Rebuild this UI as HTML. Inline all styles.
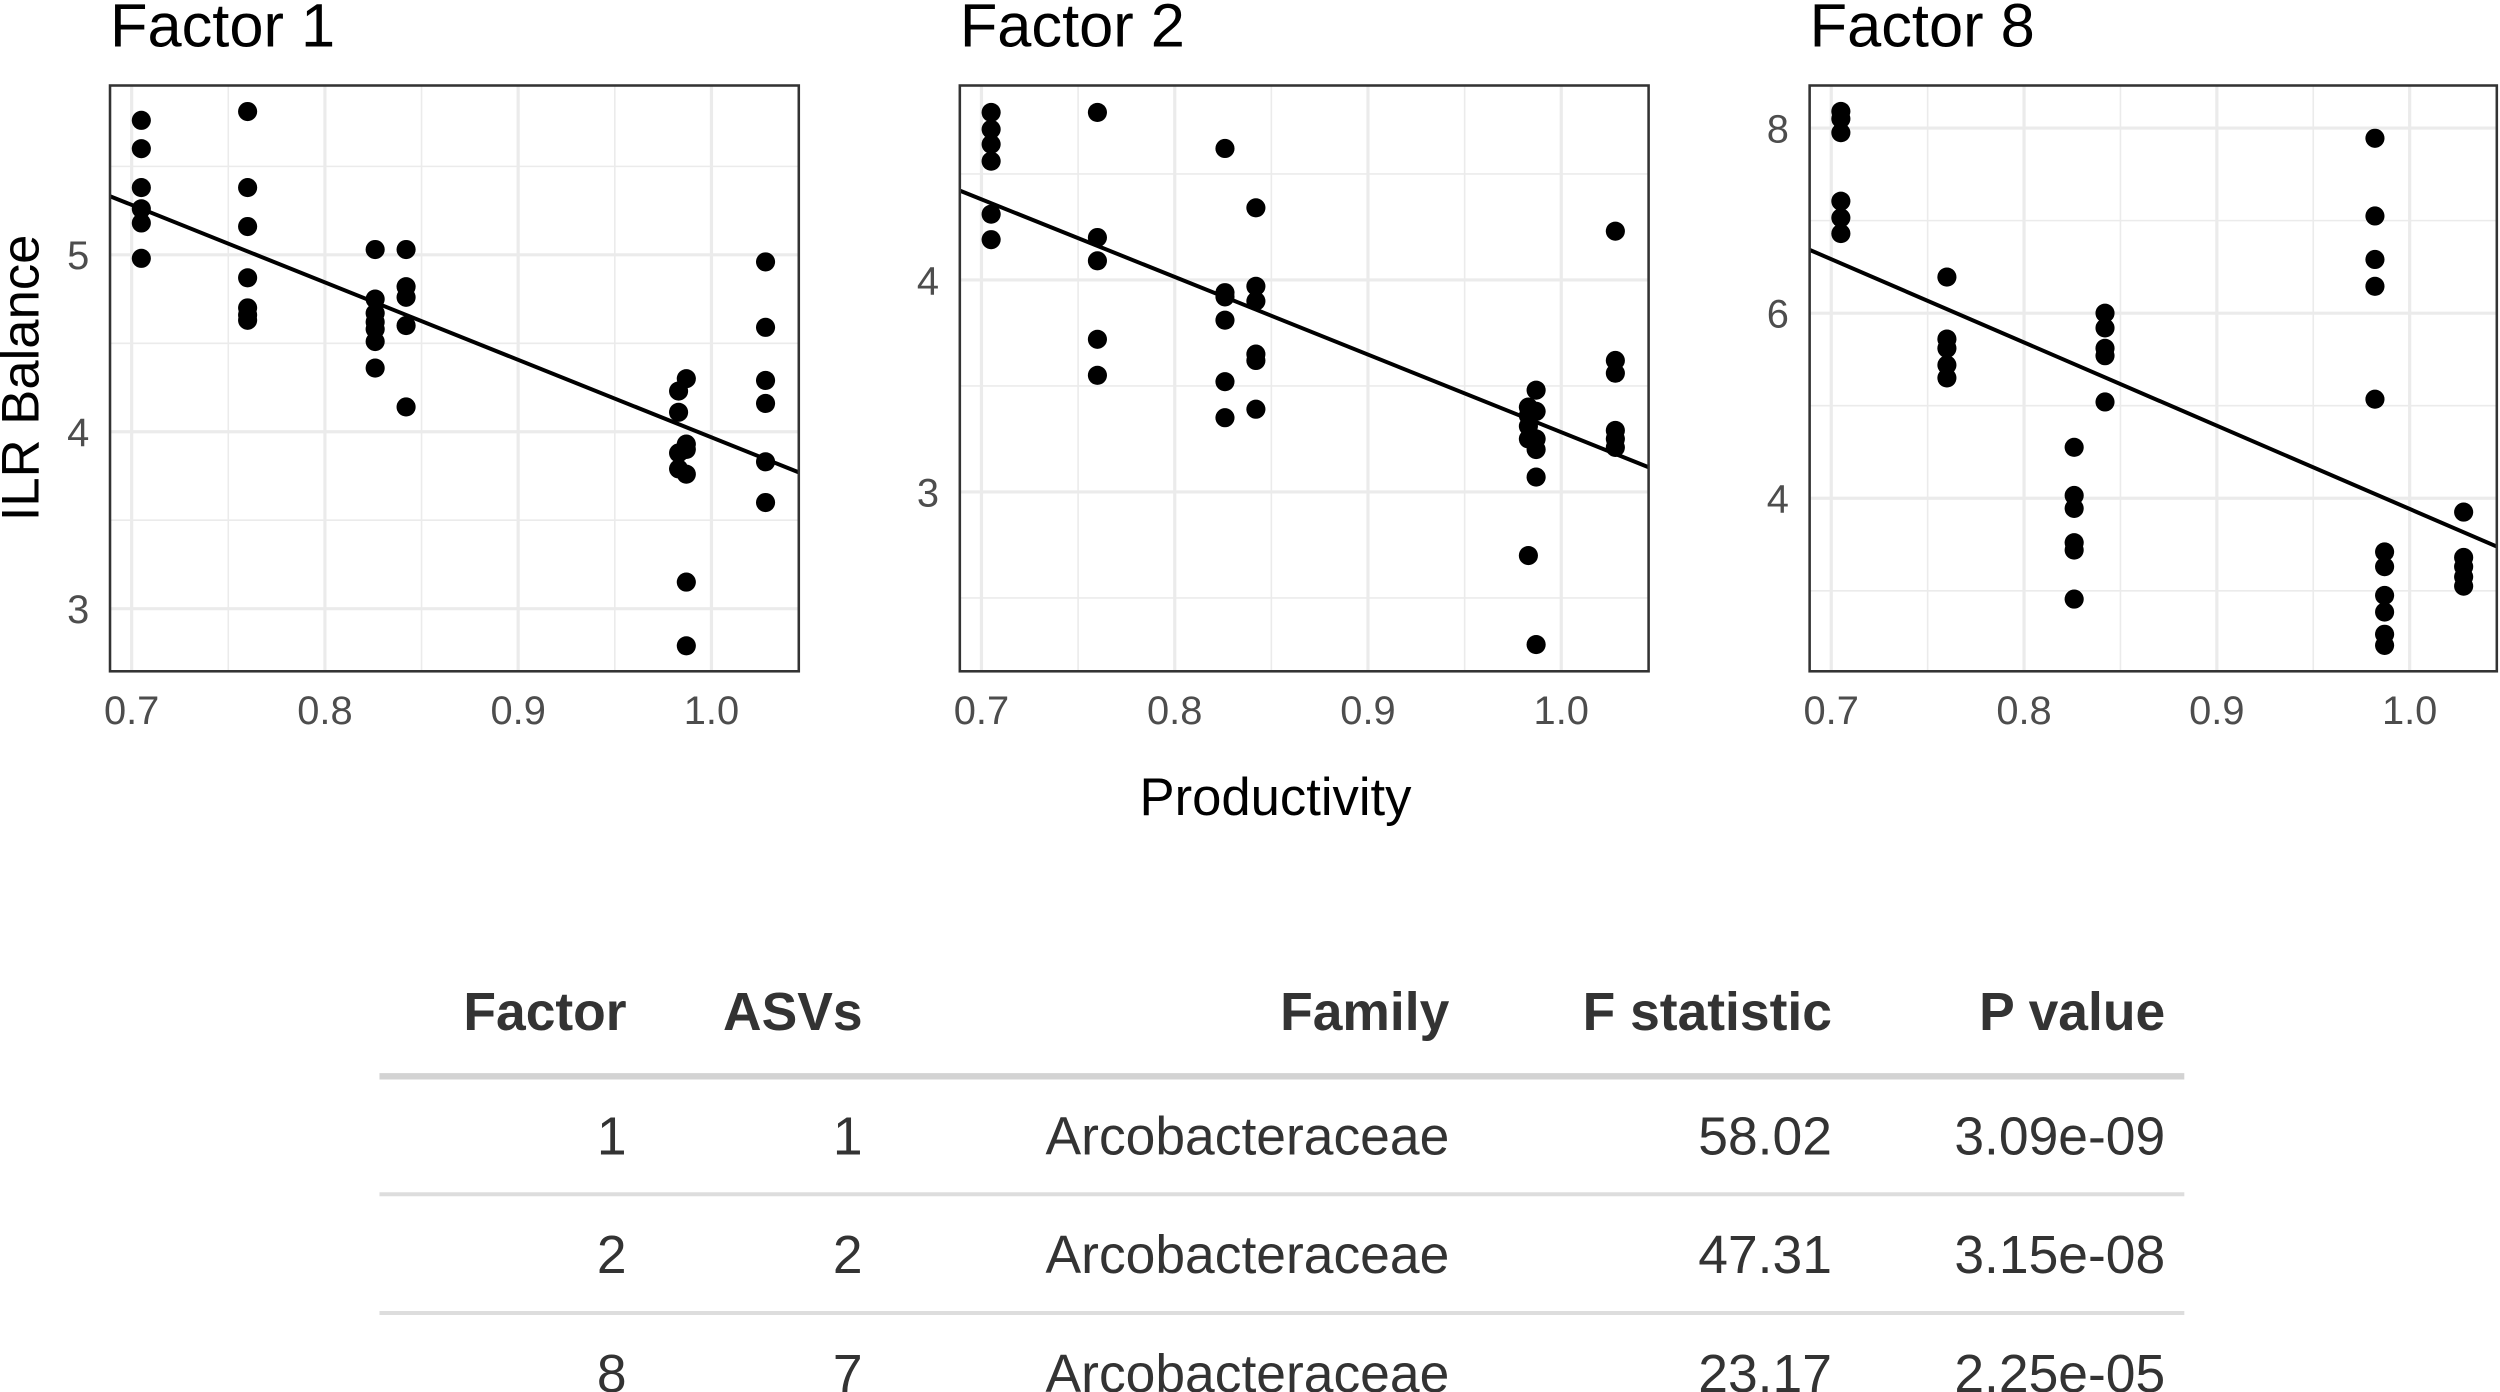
<!DOCTYPE html>
<html><head><meta charset="utf-8"><style>
html,body{margin:0;padding:0;background:#fff;}
svg{display:block;font-family:"Liberation Sans",Arial,sans-serif;}
</style></head><body>
<svg id="chart" width="2500" height="1392" viewBox="0 0 1568 873" xmlns="http://www.w3.org/2000/svg">
<g id="panels"></g>
<text x="0" y="0" transform="translate(24,237) rotate(-90)" text-anchor="middle" font-size="33" fill="#000">ILR Balance</text>
<text x="800" y="511" text-anchor="middle" font-size="33" fill="#000">Productivity</text>
<g id="table"></g>
</svg>
<script>
const NS="http://www.w3.org/2000/svg";
// x values of sample groups
const xF1=[0.705,0.705,0.705,0.705,0.705,0.705, 0.76,0.76,0.76,0.76,0.76,0.76,0.76, 0.826,0.826,0.826,0.826,0.826,0.826,0.826, 0.842,0.842,0.842,0.842,0.842, 0.983,0.983,0.983,0.983, 0.987,0.987,0.987,0.987,0.987,0.987, 1.028,1.028,1.028,1.028,1.028,1.028];
const yF1=[5.76,5.60,5.38,5.26,5.18,4.98, 5.81,5.38,5.16,4.87,4.70,4.66,4.63, 5.03,4.75,4.67,4.62,4.58,4.51,4.36, 5.03,4.82,4.76,4.60,4.14, 4.23,4.11,3.88,3.79, 4.30,3.93,3.90,3.76,3.15,2.79, 4.96,4.59,4.29,4.16,3.83,3.60];
const xF2=[0.705,0.705,0.705,0.705,0.705,0.705, 0.76,0.76,0.76,0.76,0.76, 0.826,0.826,0.826,0.826,0.826,0.826, 0.842,0.842,0.842,0.842,0.842,0.842, 0.983,0.983,0.983,0.983,0.983, 0.987,0.987,0.987,0.987,0.987,0.987, 1.028,1.028,1.028,1.028,1.028,1.028];
const yF2=[4.79,4.71,4.64,4.56,4.31,4.19, 4.79,4.20,4.09,3.72,3.55, 4.62,3.94,3.92,3.81,3.52,3.35, 4.34,3.97,3.90,3.65,3.62,3.39, 3.40,3.36,3.31,3.25,2.70, 3.48,3.38,3.25,3.20,3.07,2.28, 4.23,3.62,3.56,3.29,3.25,3.21];
const xF8=[0.705,0.705,0.705,0.705,0.705,0.705, 0.76,0.76,0.76,0.76,0.76, 0.826,0.826,0.826,0.826,0.826,0.826, 0.842,0.842,0.842,0.842,0.842, 0.982,0.982,0.982,0.982,0.982, 0.987,0.987,0.987,0.987,0.987,0.987, 1.028,1.028,1.028,1.028,1.028];
const yF8=[8.18,8.10,7.95,7.21,7.03,6.86, 6.39,5.72,5.62,5.44,5.30, 4.55,4.03,3.89,3.52,3.44,2.91, 6.00,5.84,5.62,5.54,5.04, 7.89,7.05,6.58,6.29,5.07, 3.42,3.26,2.95,2.77,2.53,2.41, 3.85,3.36,3.26,3.15,3.05];
const titles=["Factor 1","Factor 2","Factor 8"];
const xTicks=[0.7,0.8,0.9,1.0];
const xTickLabels=["0.7","0.8","0.9","1.0"];
const xMinor=[0.75,0.85,0.95];
const yTicksF1=[3,4,5], yMinorF1=[3.5,4.5,5.5];
const yTicksF2=[3,4], yMinorF2=[2.5,3.5,4.5];
const yTicksF8=[4,6,8], yMinorF8=[3,5,7];
const xDomain=[0.6888,1.0452];
const yDomF1=[2.646,5.957], yDomF2=[2.154,4.917], yDomF8=[2.13,8.46];

const panels=[
 {box:[69,53.6,501,421],xs:xF1,ys:yF1,yt:yTicksF1,ym:yMinorF1,yd:yDomF1},
 {box:[602,53.6,1034,421],xs:xF2,ys:yF2,yt:yTicksF2,ym:yMinorF2,yd:yDomF2},
 {box:[1135,53.6,1566,421],xs:xF8,ys:yF8,yt:yTicksF8,ym:yMinorF8,yd:yDomF8}
];
function mk(tag,attrs,parent){const e=document.createElementNS(NS,tag);for(const k in attrs)e.setAttribute(k,attrs[k]);parent.appendChild(e);return e;}
const root=document.getElementById('panels');
panels.forEach((p,i)=>{
 const [x0,y0,x1,y1]=p.box;
 const sx=v=>x0+(v-xDomain[0])/(xDomain[1]-xDomain[0])*(x1-x0);
 const sy=v=>y1-(v-p.yd[0])/(p.yd[1]-p.yd[0])*(y1-y0);
 const g=mk('g',{},root);
 
 
 const t=mk('text',{x:x0,y:29,'font-size':38.5,fill:'#000'},g);t.textContent=titles[i];
 
 
 xMinor.forEach(v=>{const l=mk('line',{x1:sx(v),x2:sx(v),y1:y0,y2:y1,stroke:'#ebebeb','stroke-width':1},g);
  
  });
 p.ym.forEach(v=>{const l=mk('line',{x1:x0,x2:x1,y1:sy(v),y2:sy(v),stroke:'#ebebeb','stroke-width':1},g);
  
  });
 xTicks.forEach((v,k)=>{const l=mk('line',{x1:sx(v),x2:sx(v),y1:y0,y2:y1,stroke:'#ebebeb','stroke-width':2},g);
  
  
  const tx=mk('text',{x:sx(v),y:454,'text-anchor':'middle','font-size':25,fill:'#4d4d4d'},g);tx.textContent=xTickLabels[k];
  
  });
 p.yt.forEach(v=>{const l=mk('line',{x1:x0,x2:x1,y1:sy(v),y2:sy(v),stroke:'#ebebeb','stroke-width':2},g);
  
  
  const ty=mk('text',{x:x0-13,y:sy(v)+9,'text-anchor':'end','font-size':25,fill:'#4d4d4d'},g);ty.textContent=String(v);
  
  });
 p.xs.forEach((xv,k)=>{const c=mk('circle',{cx:sx(xv),cy:sy(p.ys[k]),r:6,fill:'#000'},g);
  
  });
 // least-squares fit line
 const n=p.xs.length;let mx=0,my=0;for(let k=0;k<n;k++){mx+=p.xs[k];my+=p.ys[k];}mx/=n;my/=n;
 let sxy=0,sxx=0;for(let k=0;k<n;k++){sxy+=(p.xs[k]-mx)*(p.ys[k]-my);sxx+=(p.xs[k]-mx)**2;}
 const b=sxy/sxx,a=my-b*mx;
 const ln=mk('line',{x1:sx(xDomain[0]),y1:sy(a+b*xDomain[0]),x2:sx(xDomain[1]),y2:sy(a+b*xDomain[1]),stroke:'#000','stroke-width':2.5},g);
 
 
 const r=mk('rect',{x:x0,y:y0,width:x1-x0,height:y1-y0,fill:'none',stroke:'#333','stroke-width':1.6},g);
 
 
});

// table
const headers=["Factor","ASVs","Family","F statistic","P value"];
const colRight=[393,541,909,1149,1358];
const rows=[["1","1","Arcobacteraceae","58.02","3.09e-09"],["2","2","Arcobacteraceae","47.31","3.15e-08"],["8","7","Arcobacteraceae","23.17","2.25e-05"]];
const tb=document.getElementById('table');
headers.forEach((h,k)=>{const t=mk('text',{x:colRight[k],y:646,'text-anchor':'end','font-size':33.5,'font-weight':'bold',fill:'#333'},tb);t.textContent=h;
 
 });
const hl=mk('line',{x1:238,x2:1370,y1:675,y2:675,stroke:'#d3d3d3','stroke-width':4},tb);


rows.forEach((r,i)=>{const yb=724+i*74.5;
 r.forEach((c,k)=>{const t=mk('text',{x:colRight[k],y:yb,'text-anchor':'end','font-size':33.5,fill:'#333'},tb);t.textContent=c;
  
  });
 if(i<2){const l=mk('line',{x1:238,x2:1370,y1:749+i*74.5,y2:749+i*74.5,stroke:'#ddd','stroke-width':2.5},tb);
  
  }
});
</script>
</body></html>
